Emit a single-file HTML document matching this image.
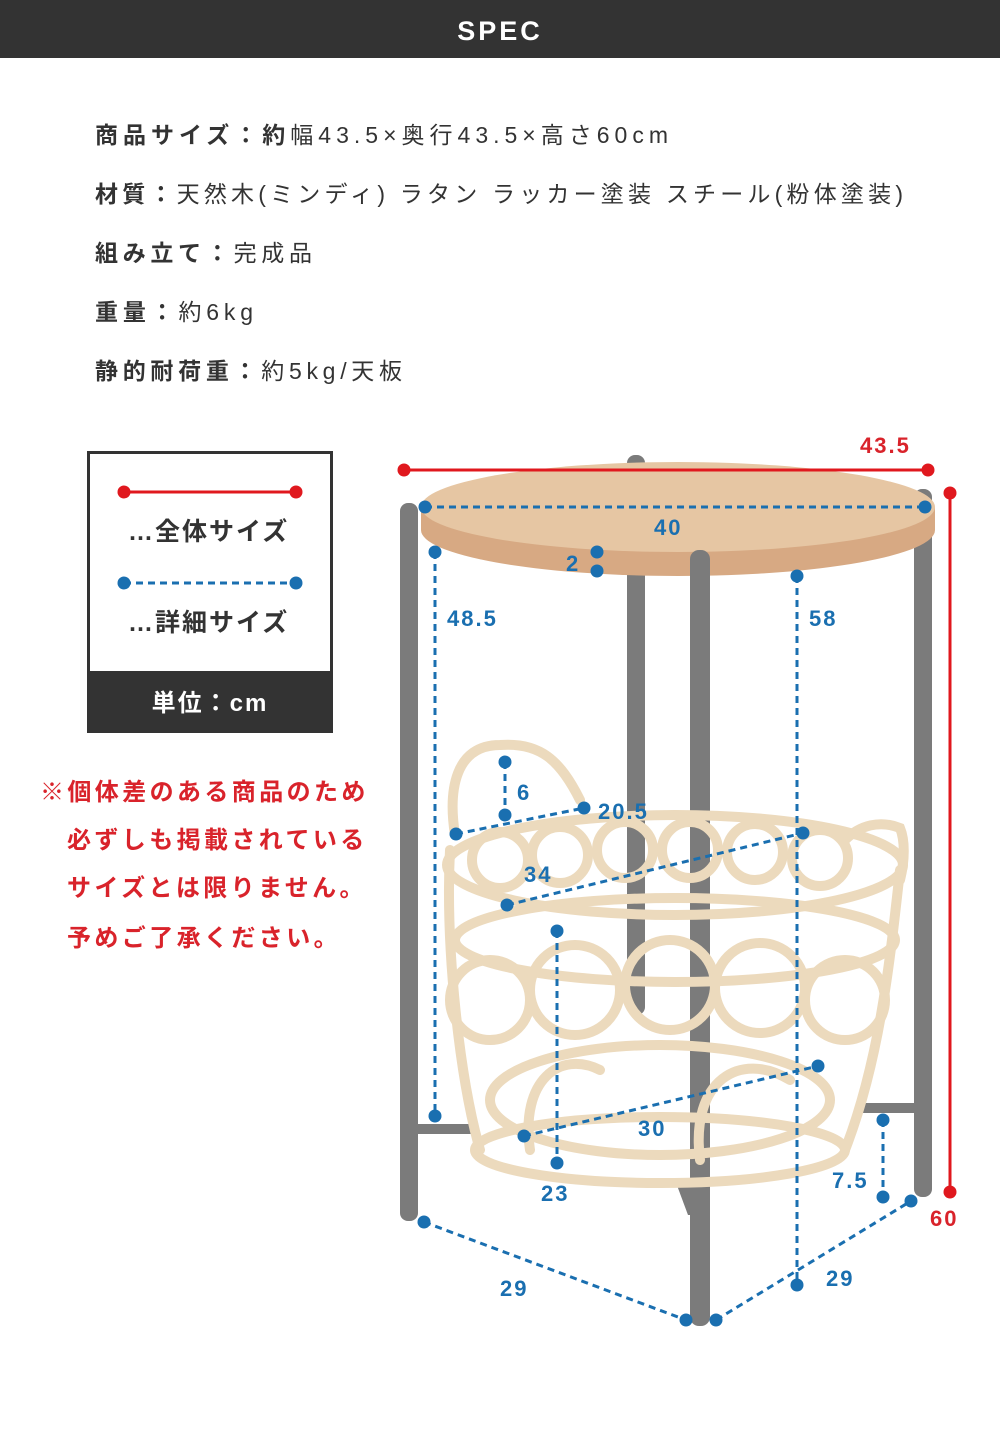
<!DOCTYPE html>
<html><head><meta charset="utf-8"><style>
html,body{margin:0;padding:0;background:#fff}
svg{display:block}
text{font-family:"Liberation Sans","Noto Sans CJK JP",sans-serif}
</style></head><body>
<svg width="1000" height="1455" viewBox="0 0 1000 1455" xmlns="http://www.w3.org/2000/svg">
<rect x="0" y="0" width="1000" height="58" fill="#333"/>
<text x="500" y="40" fill="#fff" font-size="27" font-weight="bold" text-anchor="middle" letter-spacing="3">SPEC</text>
<g font-size="23" fill="#333">
<text x="95" y="143" textLength="573" lengthAdjust="spacing"><tspan font-weight="bold">商品サイズ：約</tspan>幅43.5×奥行43.5×高さ60cm</text>
<text x="95" y="202" textLength="808" lengthAdjust="spacing"><tspan font-weight="bold">材質：</tspan>天然木(ミンディ) ラタン ラッカー塗装 スチール(粉体塗装)</text>
<text x="95" y="261" textLength="217" lengthAdjust="spacing"><tspan font-weight="bold">組み立て：</tspan>完成品</text>
<text x="95" y="320" textLength="158" lengthAdjust="spacing"><tspan font-weight="bold">重量：</tspan>約6kg</text>
<text x="95" y="379" textLength="307" lengthAdjust="spacing"><tspan font-weight="bold">静的耐荷重：</tspan>約5kg/天板</text>
</g>
<!-- legend -->
<rect x="88.5" y="452.5" width="243" height="279" fill="#fff" stroke="#333" stroke-width="3"/>
<rect x="87" y="671" width="246" height="62" fill="#333"/>
<line x1="124" y1="492" x2="296" y2="492" stroke="#e0181e" stroke-width="3"/>
<circle cx="124" cy="492" r="6.5" fill="#e0181e"/><circle cx="296" cy="492" r="6.5" fill="#e0181e"/>
<line x1="124" y1="583" x2="296" y2="583" stroke="#1a6fb0" stroke-width="3" stroke-dasharray="7,5"/>
<circle cx="124" cy="583" r="6.5" fill="#1a6fb0"/><circle cx="296" cy="583" r="6.5" fill="#1a6fb0"/>
<text x="128" y="540" font-size="25" font-weight="bold" fill="#333" letter-spacing="2">…全体サイズ</text>
<text x="128" y="631" font-size="25" font-weight="bold" fill="#333" letter-spacing="2">…詳細サイズ</text>
<text x="210" y="711" font-size="24" font-weight="bold" fill="#fff" text-anchor="middle" letter-spacing="2">単位：cm</text>
<g font-size="24" font-weight="bold" fill="#d9232b" letter-spacing="3.4">
<text x="40" y="800">※個体差のある商品のため</text>
<text x="67" y="848">必ずしも掲載されている</text>
<text x="67" y="896">サイズとは限りません。</text>
<text x="67" y="946">予めご了承ください。</text>
</g>
<!-- legs back -->
<g fill="#7b7b7b">
<rect x="627" y="455" width="18" height="560" rx="8"/>
<rect x="400" y="503" width="18" height="718" rx="8"/>
<rect x="914" y="489" width="18" height="708" rx="8"/>
<rect x="418" y="1124" width="55" height="10"/>
<rect x="860" y="1103" width="55" height="10"/>
<polygon points="675,1180 688,1180 700,1215 688,1215"/>
</g>
<!-- table top -->
<ellipse cx="678" cy="530" rx="257" ry="46" fill="#d7a983"/>
<rect x="421" y="507" width="514" height="23" fill="#d7a983"/>
<ellipse cx="678" cy="507" rx="257" ry="45" fill="#e6c6a3"/>
<!-- front leg -->
<rect x="690" y="550" width="20" height="776" rx="9" fill="#7b7b7b"/>
<!-- basket -->
<g fill="none" stroke="#ecdabd" stroke-width="10" stroke-linecap="round">
<path d="M455,835 C448,790 455,745 500,745 C540,742 560,760 580,800"/>
<path d="M845,840 C860,825 880,820 900,828 C905,840 905,860 900,880"/>
<ellipse cx="675" cy="865" rx="228" ry="50"/>
<ellipse cx="675" cy="940" rx="220" ry="42"/>
<ellipse cx="660" cy="1150" rx="185" ry="33"/>
<ellipse cx="660" cy="1100" rx="170" ry="55"/>
<path d="M450,850 C445,950 460,1080 480,1150"/>
<path d="M900,870 C890,960 880,1060 845,1150"/>
<circle cx="500" cy="860" r="28"/><circle cx="560" cy="855" r="28"/><circle cx="625" cy="850" r="28"/>
<circle cx="690" cy="850" r="28"/><circle cx="755" cy="852" r="28"/><circle cx="820" cy="858" r="28"/>
<circle cx="490" cy="1000" r="40"/><circle cx="575" cy="990" r="45"/><circle cx="670" cy="985" r="45"/>
<circle cx="760" cy="988" r="45"/><circle cx="845" cy="1000" r="40"/>
<path d="M530,1150 C520,1080 560,1050 600,1070 M700,1160 C690,1080 740,1050 790,1080"/>
</g>
<!-- red dims -->
<line x1="404" y1="470" x2="928" y2="470" stroke="#e0181e" stroke-width="3"/>
<circle cx="404" cy="470" r="6.5" fill="#e0181e"/><circle cx="928" cy="470" r="6.5" fill="#e0181e"/>
<line x1="950" y1="493" x2="950" y2="1192" stroke="#e0181e" stroke-width="3"/>
<circle cx="950" cy="493" r="6.5" fill="#e0181e"/><circle cx="950" cy="1192" r="6.5" fill="#e0181e"/>
<g font-size="22" font-weight="bold" fill="#d9232b" letter-spacing="2">
<text x="860" y="453">43.5</text>
<text x="930" y="1226">60</text>
</g>
<!-- blue dims -->
<g stroke="#1a6fb0" stroke-width="3" stroke-dasharray="7,5" fill="none">
<line x1="425" y1="507" x2="925" y2="507"/>
<line x1="435" y1="552" x2="435" y2="1116"/>
<line x1="797" y1="576" x2="797" y2="1285"/>
<line x1="505" y1="762" x2="505" y2="815"/>
<line x1="456" y1="834" x2="584" y2="808"/>
<line x1="507" y1="905" x2="803" y2="833"/>
<line x1="557" y1="931" x2="557" y2="1163"/>
<line x1="524" y1="1136" x2="818" y2="1066"/>
<line x1="883" y1="1120" x2="883" y2="1197"/>
<line x1="424" y1="1222" x2="686" y2="1320"/>
<line x1="716" y1="1320" x2="911" y2="1201"/>
</g>
<g fill="#1a6fb0">
<circle cx="425" cy="507" r="6.5"/><circle cx="925" cy="507" r="6.5"/>
<circle cx="597" cy="552" r="6.5"/><circle cx="597" cy="571" r="6.5"/>
<circle cx="435" cy="552" r="6.5"/><circle cx="435" cy="1116" r="6.5"/>
<circle cx="797" cy="576" r="6.5"/><circle cx="797" cy="1285" r="6.5"/>
<circle cx="505" cy="762" r="6.5"/><circle cx="505" cy="815" r="6.5"/>
<circle cx="456" cy="834" r="6.5"/><circle cx="584" cy="808" r="6.5"/>
<circle cx="507" cy="905" r="6.5"/><circle cx="803" cy="833" r="6.5"/>
<circle cx="557" cy="931" r="6.5"/><circle cx="557" cy="1163" r="6.5"/>
<circle cx="524" cy="1136" r="6.5"/><circle cx="818" cy="1066" r="6.5"/>
<circle cx="883" cy="1120" r="6.5"/><circle cx="883" cy="1197" r="6.5"/>
<circle cx="424" cy="1222" r="6.5"/><circle cx="686" cy="1320" r="6.5"/>
<circle cx="716" cy="1320" r="6.5"/><circle cx="911" cy="1201" r="6.5"/>
</g>
<g font-size="22" font-weight="bold" fill="#1a6fb0" letter-spacing="2">
<text x="654" y="535">40</text>
<text x="566" y="571">2</text>
<text x="447" y="626">48.5</text>
<text x="809" y="626">58</text>
<text x="517" y="800">6</text>
<text x="598" y="819">20.5</text>
<text x="524" y="882">34</text>
<text x="638" y="1136">30</text>
<text x="541" y="1201">23</text>
<text x="832" y="1188">7.5</text>
<text x="500" y="1296">29</text>
<text x="826" y="1286">29</text>
</g>
</svg>
</body></html>
